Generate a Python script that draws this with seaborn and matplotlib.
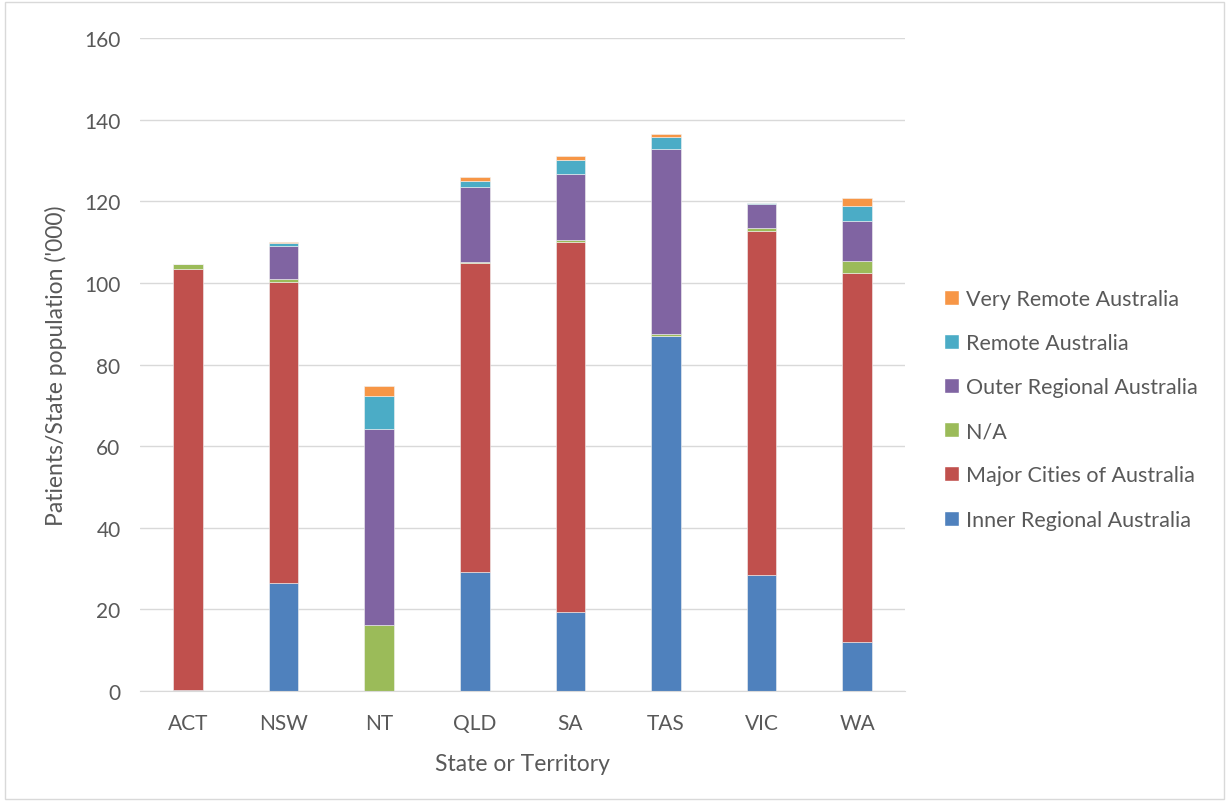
import numpy as np
import seaborn as sns
import matplotlib.pyplot as plt
from matplotlib.patches import Patch, Rectangle

states = ["ACT", "NSW", "NT", "QLD", "SA", "TAS", "VIC", "WA"]

# stacked from the bottom up
inner_regional = [0.2, 26.5, 0.0, 29.1, 19.3, 87.1, 28.5, 11.9]
major_cities = [103.3, 73.8, 0.0, 75.8, 90.6, 0.0, 84.1, 90.5]
not_available = [1.2, 0.7, 16.2, 0.3, 0.6, 0.4, 0.8, 2.9]
outer_regional = [0.0, 8.1, 48.0, 18.3, 16.3, 45.2, 6.0, 9.9]
remote = [0.0, 0.7, 8.0, 1.4, 3.4, 3.1, 0.3, 3.6]
very_remote = [0.0, 0.2, 2.6, 1.0, 1.0, 0.8, 0.0, 2.0]

series = [
    ("Inner Regional Australia", inner_regional, "#4F81BD"),
    ("Major Cities of Australia", major_cities, "#C0504D"),
    ("N/A", not_available, "#9BBB59"),
    ("Outer Regional Australia", outer_regional, "#8064A2"),
    ("Remote Australia", remote, "#4BACC6"),
    ("Very Remote Australia", very_remote, "#F79646"),
]

sns.set_style("white")
plt.rcParams["font.family"] = ["Lato", "DejaVu Sans"]
txt = "#595959"

fig = plt.figure(figsize=(12.29, 8.03), dpi=100)
ax = fig.add_axes([0.1139, 0.1382, 0.6225, 0.8132])

bottom = np.zeros(len(states))
for name, vals, col in series:
    sns.barplot(x=states, y=vals, bottom=bottom, color=col, width=0.31,
                saturation=1, edgecolor="#F2F2F2", linewidth=0.4, ax=ax)
    bottom += np.array(vals)

ax.set_ylim(0, 160)
ax.set_yticks(range(0, 161, 20))
ax.set_xlim(-0.5, len(states) - 0.5)
ax.yaxis.grid(True, color="#D9D9D9", linewidth=1)
ax.set_axisbelow(True)
for s in ["top", "right", "left"]:
    ax.spines[s].set_visible(False)
ax.spines["bottom"].set_color("#D9D9D9")
ax.tick_params(axis="y", length=0, labelsize=15, labelcolor=txt, pad=14)
ax.tick_params(axis="x", length=0, labelsize=15, labelcolor=txt, pad=16)
ax.set_xlabel("State or Territory", fontsize=16.5, color=txt, labelpad=14)
ax.set_ylabel("Patients/State population ('000)", fontsize=16.5, color=txt, labelpad=12)

handles = [Patch(facecolor=c, label=n) for n, v, c in reversed(series)]
fig.legend(handles=handles, loc="center left", bbox_to_anchor=(0.752, 0.489),
           frameon=False, fontsize=15.5, labelcolor=txt, handlelength=0.7,
           handleheight=0.7, handletextpad=0.35, labelspacing=1.12)

fig.patches.append(Rectangle((0.004, 0.004), 0.992, 0.992, transform=fig.transFigure,
                             fill=False, edgecolor="#D9D9D9", linewidth=1))

fig.savefig("out.png", dpi=100)
